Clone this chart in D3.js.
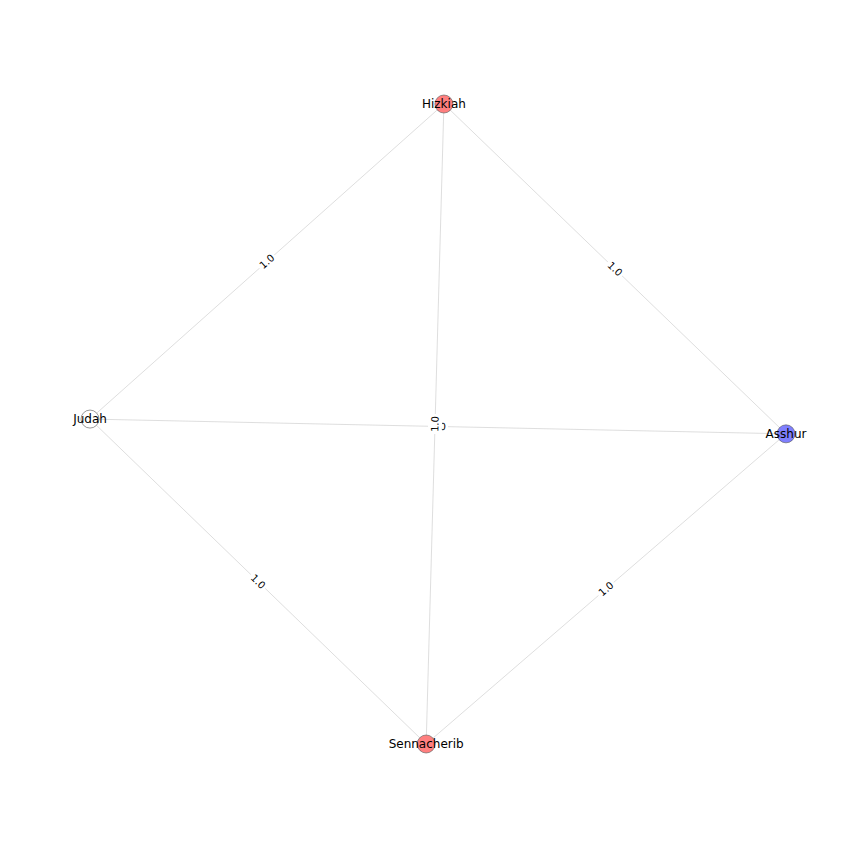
<!DOCTYPE html>
<html><head><meta charset="utf-8">
<script src="https://cdn.jsdelivr.net/npm/d3@7"></script>
<style>body{margin:0;background:#fff}</style></head>
<body><svg id="c" width="864" height="864"></svg>
<script>
const nodeNames = ["Hizkiah","Asshur","Judah","Sennacherib"];
const nodeX = [0.017, 1.0, -1.0, -0.034];
const nodeY = [1.0, -0.005, 0.040, -0.95];
const nodeColors = ["#ff7f7f","#7f7fff","#ffffff","#ff7f7f"];
const edgeSources = ["Hizkiah","Hizkiah","Judah","Judah","Asshur","Hizkiah"];
const edgeTargets = ["Judah","Asshur","Asshur","Sennacherib","Sennacherib","Sennacherib"];
const edgeWeights = ["1.0","1.0","1.0","1.0","1.0","1.0"];

const svg = d3.select("#c");
const x = d3.scaleLinear().domain([-1,1]).range([90,786]);
const y = d3.scaleLinear().domain([-0.95,1.0]).range([744,104]);
const nodes = nodeNames.map((n,i)=>({name:n,x:x(nodeX[i]),y:y(nodeY[i]),c:nodeColors[i]}));
const byName = Object.fromEntries(nodes.map(n=>[n.name,n]));
const edges = edgeSources.map((s,i)=>({s:byName[s],t:byName[edgeTargets[i]],w:edgeWeights[i]}));

svg.selectAll("line").data(edges).join("line")
  .attr("x1",d=>d.s.x).attr("y1",d=>d.s.y).attr("x2",d=>d.t.x).attr("y2",d=>d.t.y)
  .attr("stroke","#d0d0d0").attr("stroke-width",0.7);

const lab = svg.selectAll("g.el").data(edges).join("g").attr("class","el")
  .attr("transform",d=>{
    let a = Math.atan2(d.t.y-d.s.y,d.t.x-d.s.x)*180/Math.PI;
    if(a>90)a-=180; if(a<=-90)a+=180;
    return `translate(${(d.s.x+d.t.x)/2},${(d.s.y+d.t.y)/2}) rotate(${a})`;
  });
lab.append("rect").attr("x",-10).attr("y",-7).attr("width",20).attr("height",14).attr("fill","#fff");
lab.append("text").text(d=>d.w).attr("text-anchor","middle").attr("dy","0.35em")
  .attr("font-family","DejaVu Sans").attr("font-size",10).attr("fill","#000");

svg.selectAll("circle").data(nodes).join("circle")
  .attr("cx",d=>d.x).attr("cy",d=>d.y).attr("r",9)
  .attr("fill",d=>d.c).attr("stroke","#555").attr("stroke-width",0.6);
svg.selectAll("text.nl").data(nodes).join("text").attr("class","nl")
  .attr("x",d=>d.x).attr("y",d=>d.y).attr("dy","0.35em").attr("text-anchor","middle")
  .attr("font-family","DejaVu Sans").attr("font-size",12).text(d=>d.name);
</script></body></html>
